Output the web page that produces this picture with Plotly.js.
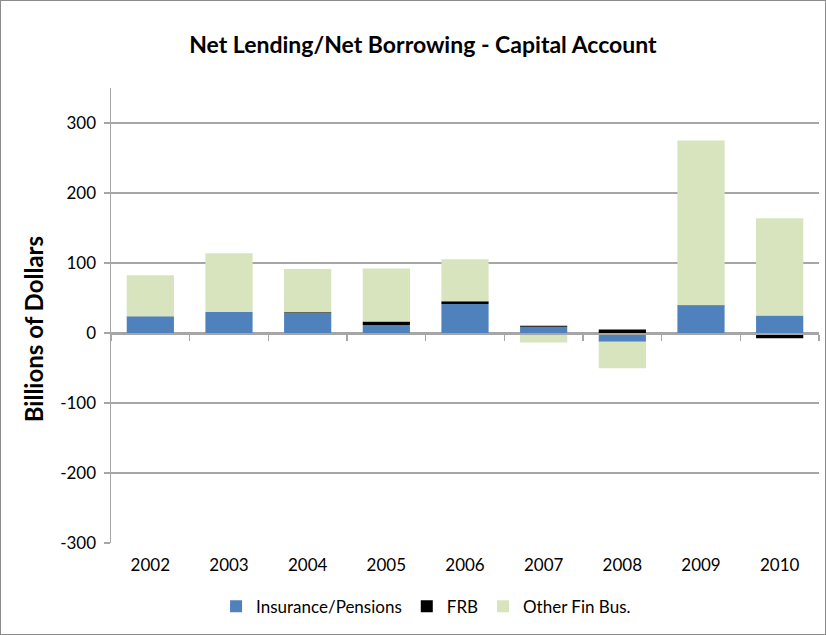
<!DOCTYPE html>
<html>
<head>
<meta charset="utf-8">
<script src="https://cdn.plot.ly/plotly-3.0.1.min.js"></script>
<style>
html,body{margin:0;padding:0;background:#fff;}
#wrap{width:826px;height:635px;box-sizing:border-box;border:1px solid #8c8c8c;position:relative;overflow:hidden;}
#chart{position:absolute;left:-1px;top:-1px;width:826px;height:635px;}
</style>
</head>
<body>
<div id="wrap"><div id="chart"></div></div>
<script>
var years = ['2002','2003','2004','2005','2006','2007','2008','2009','2010'];
var insurancePensions = [24, 30.5, 28.5, 11.5, 41.5, 9, -12.5, 39, 25];
var frb = [-1, -2, 1, 5, 4, 1.5, 5, 0.5, -7.5];
var otherFinBus = [58.5, 83.5, 62, 75.5, 60, -13.5, -38, 235.5, 139];
var yTicks = [-300, -200, -100, 0, 100, 200, 300];
var yTickText = ['-300', '-200', '-100', '0', '100', '200', '300'];
var seriesNames = ['Insurance/Pensions', 'FRB', 'Other Fin Bus.'];

var font = 'Lato, "Open Sans", sans-serif';
var grid = '#a6a6a6';

var traces = [
  {type:'bar', name:seriesNames[0], x:years, y:insurancePensions, marker:{color:'#4F81BD'}},
  {type:'bar', name:seriesNames[1], x:years, y:frb, marker:{color:'#000000'}},
  {type:'bar', name:seriesNames[2], x:years, y:otherFinBus, marker:{color:'#D7E4BD'}},
  {type:'scatter', mode:'markers', x:years, y:years.map(function(){return 0;}), xaxis:'x2',
   marker:{opacity:0, size:1}, showlegend:false, hoverinfo:'skip'}
];

var layout = {
  width:826, height:635,
  margin:{l:111, r:7, t:88, b:92},
  paper_bgcolor:'#ffffff', plot_bgcolor:'#ffffff',
  barmode:'relative', bargap:0.4,
  font:{family:font, size:17, color:'#000'},
  title:{text:'<b>Net Lending/Net Borrowing - Capital Account</b>', x:0.512, xanchor:'center', y:0.93, yanchor:'middle',
         font:{family:font, size:23, color:'#000'}},
  xaxis:{type:'category', range:[-0.5, 8.5], showline:false, showgrid:false, zeroline:false, ticks:'',
         tickfont:{family:font, size:17}, ticklabelstandoff:10, fixedrange:true},
  xaxis2:{type:'category', overlaying:'x', anchor:'free', position:300/650, side:'bottom',
          range:[-0.5, 8.5], showline:true, linecolor:grid, linewidth:1.5, ticks:'outside', ticklen:6,
          tickcolor:grid, tickwidth:1.5, tickson:'boundaries', showticklabels:false, showgrid:false, zeroline:false},
  yaxis:{range:[-300, 350], tickvals:yTicks, ticktext:yTickText, showgrid:true, gridcolor:grid, gridwidth:1.5, zeroline:false,
         showline:true, linecolor:grid, linewidth:1.5, ticks:'outside', ticklen:6, tickcolor:grid, tickwidth:1.5,
         ticklabelstandoff:4, tickfont:{family:font, size:17}},
  legend:{orientation:'h', x:0.445, xanchor:'center', y:-0.14, yanchor:'middle', font:{family:font, size:17},
          traceorder:'normal'},
  annotations:[{text:'<b>Billions of Dollars</b>', xref:'paper', yref:'paper', x:-0.11, y:0.47,
                xanchor:'center', yanchor:'middle', textangle:-90, showarrow:false,
                font:{family:font, size:24, color:'#000'}}],
  showlegend:true
};

Plotly.newPlot('chart', traces, layout, {displayModeBar:false, staticPlot:true});
</script>
</body>
</html>
